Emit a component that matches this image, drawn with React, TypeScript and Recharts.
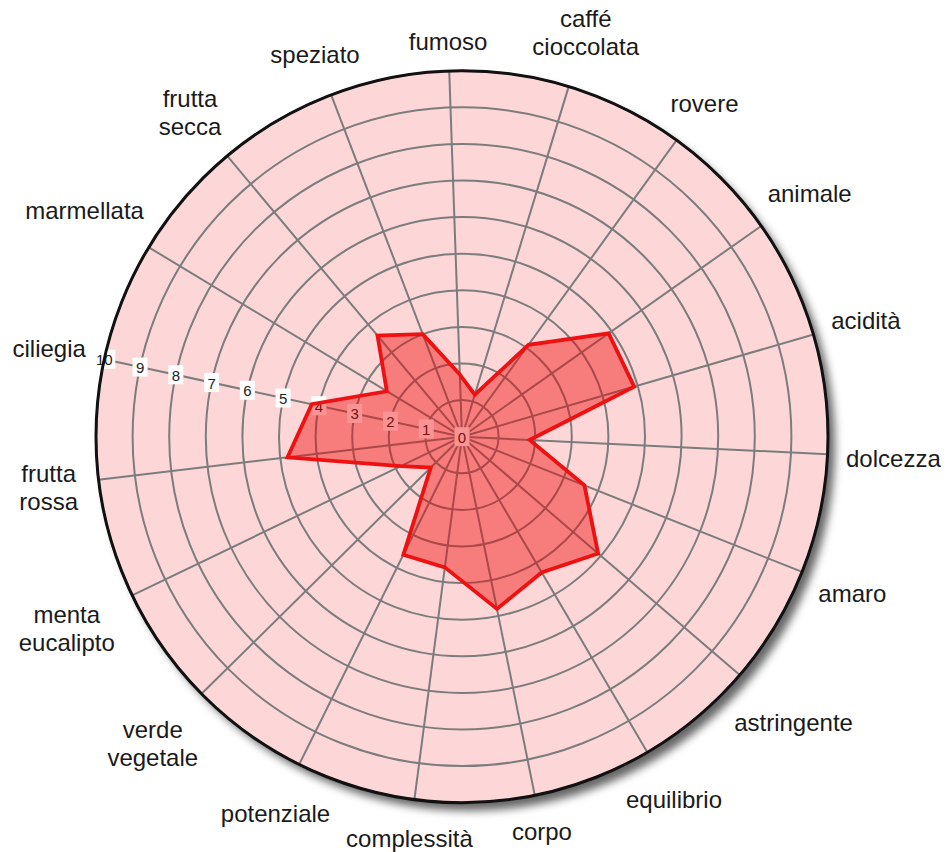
import { RadarChart, Radar, PolarGrid, PolarAngleAxis, PolarRadiusAxis } from 'recharts'

const CATEGORIES = [
  'fumoso',
  'caffé cioccolata',
  'rovere',
  'animale',
  'acidità',
  'dolcezza',
  'amaro',
  'astringente',
  'equilibrio',
  'corpo',
  'complessità',
  'potenziale',
  'verde vegetale',
  'menta eucalipto',
  'frutta rossa',
  'ciliegia',
  'marmellata',
  'frutta secca',
  'speziato',
]
const SCORES = [1.7, 1.2, 3.1, 4.9, 4.9, 1.85, 3.6, 4.9, 4.3, 4.8, 3.6, 3.6, 1.2, 1.85, 4.8, 4.2, 2.4, 3.6, 3.0]
const SCALE_TICKS = [0, 1, 2, 3, 4, 5, 6, 7, 8, 9, 10]

// the whole page is used, so the labels can reach the window edges
const W = 947
const H = 852
const CX = 462
const CY = 436.7
const R = 366
const START = 92
const STEP = 360 / CATEGORIES.length
// the scale labels run along the "ciliegia" spoke
const RADIUS_AXIS_ANGLE = START - STEP * CATEGORIES.indexOf('ciliegia') + 360

const FONT = '"Liberation Sans", Arial, Helvetica, sans-serif'
const LABEL_SIZE = 24

const data = CATEGORIES.map((name, i) => ({ name, value: SCORES[i] }))

let measureCtx: CanvasRenderingContext2D | null = null
function textWidth(s: string) {
  if (!measureCtx) measureCtx = document.createElement('canvas').getContext('2d')
  if (!measureCtx) return s.length * LABEL_SIZE * 0.5
  measureCtx.font = `${LABEL_SIZE}px ${FONT}`
  return measureCtx.measureText(s).width
}

// category label, pushed outside the circle by its own box size
const AngleLabel = (props: any) => {
  const { x, y, payload } = props
  const cx = typeof props.cx === 'number' ? props.cx : CX
  const cy = typeof props.cy === 'number' ? props.cy : CY
  const a = Math.atan2(cy - y, x - cx)
  const cos = Math.cos(a)
  const sin = Math.sin(a)
  const lines = String(payload.value).split(' ')
  const hw = Math.max(...lines.map(textWidth)) / 2
  const hh = 12 + (lines.length - 1) * 14
  const d = R + 18 + hw * Math.abs(cos) + hh * Math.abs(sin)
  const px = cx + d * cos
  const py = cy - d * sin + 1.5
  return (
    <g>
      {lines.map((line, i) => (
        <text
          key={i}
          x={px}
          y={py + (i - (lines.length - 1) / 2) * 28}
          textAnchor="middle"
          dominantBaseline="central"
          fontSize={LABEL_SIZE}
          fontFamily={FONT}
          fill="#1a1a1a"
        >
          {line}
        </text>
      ))}
    </g>
  )
}

const RadiusLabel = (props: any) => {
  const { x, y, payload } = props
  const s = String(payload.value)
  const w = s.length > 1 ? 22 : 15
  return (
    <g>
      <rect x={x - w / 2} y={y - 9.5} width={w} height={19} fill="#ffffff" />
      <text x={x} y={y + 0.5} textAnchor="middle" dominantBaseline="central" fontSize={15} fontFamily={FONT} fill="#222">
        {s}
      </text>
    </g>
  )
}

const chartProps = {
  width: W,
  height: H,
  data,
  cx: CX,
  cy: CY,
  outerRadius: R,
  startAngle: START,
  endAngle: START - 360,
  margin: { top: 0, right: 0, bottom: 0, left: 0 },
}

const layer = { position: 'absolute' as const, left: 0, top: 0 }

export default function App() {
  return (
    <div style={{ position: 'absolute', left: 0, top: 0, width: W, height: H, fontFamily: FONT }}>
      {/* pink disc with soft shadow behind the chart */}
      <svg width={W} height={H} style={layer}>
        <defs>
          <filter id="discShadow" x="-10%" y="-10%" width="130%" height="130%">
            <feDropShadow dx="7" dy="8" stdDeviation="4.5" floodColor="#000" floodOpacity="0.6" />
          </filter>
        </defs>
        <circle cx={CX} cy={CY} r={R} fill="#fdd7d7" filter="url(#discShadow)" />
      </svg>

      {/* grid, category labels and scale labels */}
      <div style={layer}>
        <RadarChart {...chartProps}>
          <PolarGrid gridType="circle" stroke="#7c7c7c" strokeWidth={2} strokeOpacity={1} />
          <PolarAngleAxis dataKey="name" tick={AngleLabel} tickLine={false} axisLine={false} />
          <PolarRadiusAxis
            type="number"
            angle={RADIUS_AXIS_ANGLE}
            domain={[0, 10]}
            ticks={SCALE_TICKS}
            tickCount={SCALE_TICKS.length}
            tick={RadiusLabel}
            axisLine={false}
            tickLine={false}
          />
          {/* invisible copy so this layer computes its scales */}
          <Radar dataKey="value" stroke="none" fill="none" dot={false} isAnimationActive={false} />
        </RadarChart>
      </div>

      {/* the tasting profile, drawn over the scale labels */}
      <div style={layer}>
        <RadarChart {...chartProps}>
          <PolarAngleAxis dataKey="name" tick={false} tickLine={false} axisLine={false} />
          <PolarRadiusAxis type="number" angle={RADIUS_AXIS_ANGLE} domain={[0, 10]} tick={false} axisLine={false} tickLine={false} />
          <Radar
            dataKey="value"
            stroke="#ee1111"
            strokeWidth={3.8}
            strokeLinejoin="miter"
            fill="#ee0000"
            fillOpacity={0.42}
            dot={false}
            isAnimationActive={false}
          />
        </RadarChart>
      </div>

      {/* dark rim on top of the outermost grid ring */}
      <svg width={W} height={H} style={{ ...layer, pointerEvents: 'none' }}>
        <circle cx={CX} cy={CY} r={R} fill="none" stroke="#111" strokeWidth={3} />
      </svg>
    </div>
  )
}
